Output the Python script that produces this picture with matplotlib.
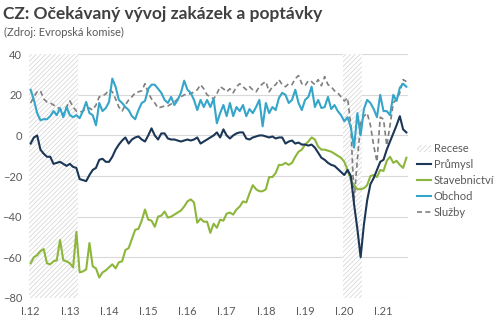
import matplotlib
matplotlib.use('Agg')
import matplotlib.pyplot as plt
from matplotlib.patches import Patch
from matplotlib.lines import Line2D
import numpy as np

plt.rcParams['font.family'] = ['Lato', 'DejaVu Sans']
plt.rcParams['hatch.linewidth'] = 0.5

# monthly data I.2012 - VIII.2021
prumysl = [-4, -1, 0, -7, -9, -10.5, -10.5, -14, -13.5, -13, -14, -15, -14, -15.5, -16, -21.5,
           -22, -22.5, -19.5, -17, -16, -12, -11.5, -13, -13, -10.5, -7, -4.5, -2.5, -1, -4, -2,
           -1, -0.5, -2, -3, 0, 3.5, 0, -2, 1, 1, -1.5, -2, -2, -2.5, -3, -2.5,
           -2, -2.5, -2, -1, -4, -3, -2, -1, 0, 1.5, -1, 3, 0, -1.5, 0, 1,
           1.5, 1.5, -1.5, -2, -1, -0.5, 0, 0, -0.5, -1, -0.5, -1.5, -1, -1, -4, -3,
           -2.5, -4, -3.5, -4.5, -4.5, -5, -4.5, -6, -8.5, -11, -12, -13.5, -14.5, -15, -16.5, -18,
           -19.5, -17, -20, -34, -46, -60, -44, -32, -24, -21, -17, -13, -12, -7, -3, 1,
           5, 9.5, 3, 1.5]
stavebnictvi = [-63, -60, -59, -57, -56, -63, -63.5, -62, -61.5, -51.5, -61.5, -62, -63, -65, -47.5, -67.5,
                -67, -66, -53, -64.5, -65.5, -70, -67.5, -66.5, -65, -63.5, -65.5, -62.5, -62, -56.5, -55.5, -51,
                -46.5, -46, -42, -36.5, -41.5, -42, -45, -40, -39.5, -37.5, -40.5, -40, -39, -38, -37, -35,
                -32.5, -31.5, -33, -43, -41, -42.5, -42.5, -48, -43.5, -45.5, -41.5, -42, -38.5, -38, -39, -36.5,
                -35, -32.5, -33, -28.5, -24.5, -26.5, -27.5, -27.5, -26.5, -20.5, -20.5, -18.5, -14.5, -14.5, -13.5, -14.5,
                -13.5, -10.5, -8, -7, -4.5, -3, -1, -2, -5.5, -7, -7, -7.5, -8, -9, -10, -11,
                -13, -17, -22, -24.5, -26.5, -26.5, -26, -24.5, -20, -19.5, -20.5, -17, -17.5, -12.5, -10.5, -13.5,
                -12.5, -14.5, -16, -11]
obchod = [22.5, 17.5, 11, 7.5, 8, 8, 9.5, 12, 10, 13.5, 9, 14, 10, 9, 10, 8.5,
          12, 16.5, 11, 10, 5, 16, 12, 13.5, 16.5, 28, 24, 17.5, 16, 14, 12.5, 9.5,
          8, 12.5, 16, 17, 23, 25, 25, 23, 21, 17.5, 16, 19, 15, 17.5, 21, 27,
          22.5, 21, 17.5, 12.5, 17.5, 14, 17.5, 14, 18, 6, 11, 15, 9.5, 16, 9.5, 14,
          12, 15, 9.5, 13, 11, 14, 17.5, 4.5, 16, 11, 14, 12.5, 18.5, 21, 20, 16,
          17.5, 22.5, 16, 12.5, 17.5, 19, 24, 14, 17.5, 13.5, 14, 19, 13, 15, 12, 10,
          7, 9, 4, -6, 11, 0, 13, 17.5, 16, 13, 9, 20, 12, 12, 10, 20,
          17, 23.5, 25.5, 24]
sluzby = [16, 19, 21.5, 22, 18, 16.5, 16, 15, 14, 13, 10, 14, 17, 14, 12, 11.5,
          12, 13, 13.5, 12.5, 15, 19, 19.5, 20.5, 22.5, 21.5, 18, 14, 12, 15, 17.5, 19,
          21, 21.5, 22, 25.5, 21, 18, 16, 13.5, 14, 14.5, 14.5, 15.5, 16.5, 18, 19, 20,
          20.5, 20.5, 21.5, 22.5, 25, 23, 20, 19, 18, 20.5, 24, 23, 21.5, 23, 21, 24,
          25.5, 24, 22.5, 24, 22.5, 21.5, 24, 25.5, 26.5, 21.5, 24, 25, 27.5, 25, 24, 25.5,
          25, 28, 29.5, 25.5, 24.5, 27, 26.5, 25, 27.5, 24.5, 29, 25, 24, 22, 21, 19,
          17, 18.5, 5, -32, -12, 6, 9.5, 11, 5, -5, -13, 9, 8, -5, 5, 16,
          18, 21, 27.5, 26.5]
# recession flags (I.12-III.13, I.20-VI.20)
recese = [1] * 15 + [0] * 81 + [1] * 6 + [0] * 14

years = ['I.12', 'I.13', 'I.14', 'I.15', 'I.16', 'I.17', 'I.18', 'I.19', 'I.20', 'I.21']

x = np.arange(len(prumysl))
txt = '#595959'
hatch_col = '#d2d2d2'

fig = plt.figure(figsize=(5, 3.23), dpi=100)
ax = fig.add_axes([0.058, 0.078, 0.758, 0.754])

rec = np.array(recese) * 120
ax.bar(x, rec, bottom=-80, width=1.0, color='white', edgecolor=hatch_col,
       hatch='///////', linewidth=0, zorder=1)

ax.plot(x, sluzby, color='#7f7f7f', lw=1.2, ls=(0, (3, 2)), zorder=3)
ax.plot(x, stavebnictvi, color='#8db63c', lw=1.5, zorder=3)
ax.plot(x, obchod, color='#35a5c9', lw=1.5, zorder=4)
ax.plot(x, prumysl, color='#1b3656', lw=1.5, zorder=5)

ax.set_xlim(-0.5, len(x) - 0.5)
ax.set_ylim(-80, 40)
ax.set_yticks(range(-80, 41, 20))
ax.set_xticks(range(0, len(x), 12))
ax.set_xticklabels(years)
ax.tick_params(length=0, labelsize=8, colors=txt, pad=6)
ax.tick_params(axis='y', pad=5)
ax.grid(axis='y', color='#d9d9d9', lw=0.8, zorder=0)
ax.set_axisbelow(True)
for s in ax.spines.values():
    s.set_visible(False)

fig.text(0.006, 0.957, 'CZ: Očekávaný vývoj zakázek a poptávky', fontsize=12.5,
         fontweight='bold', color='#404040', va='center', ha='left')
fig.text(0.008, 0.901, '(Zdroj: Evropská komise)', fontsize=8, color=txt,
         va='center', ha='left')

handles = [Patch(facecolor='white', edgecolor=hatch_col, hatch='///////', linewidth=0),
           Line2D([], [], color='#1b3656', lw=1.5),
           Line2D([], [], color='#8db63c', lw=1.5),
           Line2D([], [], color='#35a5c9', lw=1.5),
           Line2D([], [], color='#7f7f7f', lw=1.2, ls=(0, (3, 2)))]
labels = ['Recese', 'Průmysl', 'Stavebnictví', 'Obchod', 'Služby']
fig.legend(handles, labels, loc='upper left', bbox_to_anchor=(0.825, 0.57),
           frameon=False, fontsize=8, labelcolor=txt, handlelength=1.3,
           handletextpad=0.2, labelspacing=0.45, borderaxespad=0)

fig.savefig('out.png', dpi=100)
